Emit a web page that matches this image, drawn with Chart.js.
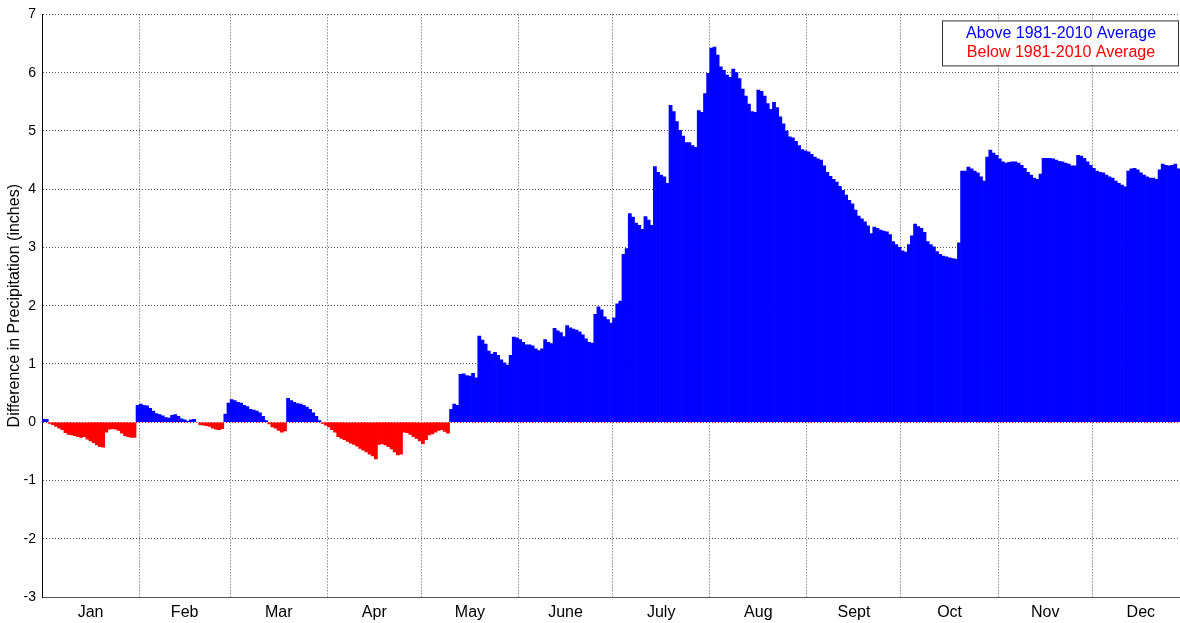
<!DOCTYPE html>
<html>
<head>
<meta charset="utf-8">
<title>Difference in Precipitation</title>
<script src="https://cdn.jsdelivr.net/npm/chart.js@4.4.0/dist/chart.umd.min.js"></script>
<style>
  html, body { margin: 0; padding: 0; background: #fff; }
  #wrap { position: relative; width: 1180px; height: 623px; }
</style>
</head>
<body>
<div id="wrap"><canvas id="precipChart"></canvas></div>
<script>
// ── Data ─────────────────────────────────────────────────────
const months = ['Jan', 'Feb', 'Mar', 'Apr', 'May', 'June', 'July', 'Aug', 'Sept', 'Oct', 'Nov', 'Dec'];
const monthStartDay = [0, 31, 60, 91, 121, 152, 182, 213, 244, 274, 305, 335, 366];   // leap year
const yTicks = [-3, -2, -1, 0, 1, 2, 3, 4, 5, 6, 7];
const seriesLabels = ['Above 1981-2010 Average', 'Below 1981-2010 Average'];

// accumulated difference from normal (inches), one value per day from Jan 1
// (the picture is cut at the right edge, the last days of Dec are not visible)
const diffValues = [
  0.05, 0.05, -0.02, -0.04, -0.07, -0.10, -0.13, -0.18, -0.21, -0.22,
  -0.23, -0.25, -0.26, -0.25, -0.29, -0.32, -0.35, -0.39, -0.42, -0.43,
  -0.17, -0.12, -0.11, -0.12, -0.14, -0.19, -0.23, -0.25, -0.26, -0.26,
  0.29, 0.31, 0.29, 0.28, 0.24, 0.19, 0.15, 0.13, 0.11, 0.08,
  0.07, 0.12, 0.13, 0.10, 0.06, 0.04, 0.02, 0.04, 0.05, 0.00,
  -0.04, -0.05, -0.06, -0.07, -0.10, -0.12, -0.13, -0.11, 0.14, 0.33,
  0.39, 0.37, 0.34, 0.33, 0.29, 0.27, 0.22, 0.21, 0.19, 0.16,
  0.10, 0.03, -0.03, -0.08, -0.10, -0.14, -0.17, -0.15, 0.41, 0.37,
  0.34, 0.32, 0.31, 0.29, 0.26, 0.22, 0.16, 0.10, 0.03, -0.02,
  -0.05, -0.08, -0.13, -0.17, -0.25, -0.28, -0.30, -0.33, -0.36,
  -0.38, -0.41, -0.45, -0.48, -0.51, -0.55, -0.58, -0.63, -0.38, -0.37,
  -0.39, -0.42, -0.46, -0.51, -0.56, -0.55, -0.17, -0.18, -0.21, -0.25,
  -0.28, -0.32, -0.37, -0.30, -0.22, -0.20, -0.17, -0.14, -0.13, -0.16,
  -0.19, 0.22, 0.31, 0.29, 0.82, 0.83, 0.80, 0.79, 0.84, 0.76,
  1.48, 1.41, 1.34, 1.22, 1.17, 1.20, 1.15, 1.07, 1.02, 0.98,
  1.15, 1.46, 1.45, 1.42, 1.37, 1.33, 1.33, 1.31, 1.26, 1.23,
  1.26, 1.42, 1.37, 1.35, 1.61, 1.57, 1.54, 1.47, 1.66, 1.62,
  1.60, 1.58, 1.55, 1.50, 1.43, 1.37, 1.36, 1.85, 1.98, 1.93,
  1.81, 1.76, 1.70, 1.79, 2.03, 2.08, 2.88, 2.98, 3.58, 3.52,
  3.42, 3.38, 3.31, 3.53, 3.47, 3.38, 4.39, 4.29, 4.24, 4.21,
  4.10, 5.44, 5.33, 5.16, 5.01, 4.91, 4.80, 4.80, 4.75, 4.72,
  5.35, 5.32, 5.64, 5.99, 6.42, 6.44, 6.30, 6.10, 6.04, 5.96,
  5.92, 6.06, 6.00, 5.90, 5.72, 5.60, 5.46, 5.33, 5.32, 5.70,
  5.68, 5.60, 5.47, 5.37, 5.49, 5.40, 5.24, 5.12, 5.00, 4.90,
  4.88, 4.82, 4.75, 4.68, 4.66, 4.64, 4.60, 4.55, 4.52, 4.50,
  4.40, 4.29, 4.22, 4.17, 4.12, 4.05, 3.98, 3.90, 3.81, 3.75,
  3.64, 3.54, 3.49, 3.44, 3.37, 3.24, 3.35, 3.33, 3.30, 3.28,
  3.27, 3.22, 3.10, 3.05, 3.00, 2.94, 2.92, 3.05, 3.20, 3.40,
  3.36, 3.33, 3.26, 3.10, 3.05, 3.01, 2.93, 2.88, 2.85,
  2.84, 2.82, 2.81, 2.80, 3.08, 4.31, 4.31, 4.38, 4.35, 4.31,
  4.28, 4.21, 4.14, 4.55, 4.67, 4.62, 4.58, 4.52, 4.47, 4.45,
  4.46, 4.47, 4.47, 4.45, 4.41, 4.36, 4.29, 4.24, 4.19, 4.17,
  4.26, 4.53, 4.53, 4.53, 4.52, 4.50, 4.48, 4.47, 4.45, 4.43,
  4.40, 4.40, 4.58, 4.57, 4.53, 4.47, 4.41, 4.36, 4.31, 4.29,
  4.28, 4.24, 4.21, 4.19, 4.14, 4.10, 4.07, 4.04, 4.31, 4.35,
  4.36, 4.33, 4.28, 4.24, 4.21, 4.19, 4.19, 4.17, 4.33, 4.43,
  4.41, 4.40, 4.41, 4.43, 4.35
];

// ── Derived ──────────────────────────────────────────────────
const nShown    = diffValues.length;          // days visible inside the frame
const aboveData = diffValues.map((v, i) => ({ x: i + 0.5, y: v > 0 ? v : null }));
const belowData = diffValues.map((v, i) => ({ x: i + 0.5, y: v < 0 ? v : null }));

// month boundaries (grid lines) + month centres (labels)
const xTicks = [];
for (let m = 0; m < 12; m++) {
  xTicks.push({ value: monthStartDay[m], label: '' });
  xTicks.push({ value: (monthStartDay[m] + monthStartDay[m + 1]) / 2, label: months[m] });
}

const FONT = '"Liberation Sans", Arial, sans-serif';

// ── Legend box drawn in the top-right corner ─────────────────
const legendBox = {
  id: 'legendBox',
  afterDraw(chart) {
    const { ctx, chartArea } = chart;
    const w = 236, h = 45;
    const x = chartArea.right - w - 2, y = chartArea.top + 6;
    ctx.save();
    ctx.fillStyle = '#fff';
    ctx.fillRect(x, y, w, h);
    ctx.strokeStyle = '#333';
    ctx.lineWidth = 1;
    ctx.strokeRect(x + 0.5, y + 0.5, w, h);
    ctx.font = '16px ' + FONT;
    ctx.textAlign = 'center';
    ctx.textBaseline = 'middle';
    chart.data.datasets.forEach((ds, i) => {
      ctx.fillStyle = ds.backgroundColor;
      ctx.fillText(ds.label, x + w / 2 + 1, y + 13.5 + i * 18.5);
    });
    ctx.restore();
  }
};

new Chart(document.getElementById('precipChart'), {
  type: 'bar',
  data: {
    datasets: [
      { label: seriesLabels[0], data: aboveData, backgroundColor: '#0000ff', borderWidth: 0, grouped: false,
        barPercentage: 1, categoryPercentage: 1 },
      { label: seriesLabels[1], data: belowData, backgroundColor: '#ff0000', borderWidth: 0, grouped: false,
        barPercentage: 1, categoryPercentage: 1 }
    ]
  },
  options: {
    responsive: true,
    maintainAspectRatio: false,
    animation: false,
    layout: { padding: { top: 14, right: 0, left: 0, bottom: 0 } },
    plugins: {
      legend: { display: false },
      tooltip: { enabled: false }
    },
    scales: {
      x: {
        type: 'linear',
        min: 0,
        max: nShown,
        offset: false,
        z: 1,
        afterBuildTicks: axis => { axis.ticks = xTicks.map(t => ({ value: t.value })); },
        afterFit: axis => {
          axis.height = 26;
          axis.paddingLeft = 0;
          axis.paddingRight = 0;
        },
        ticks: {
          autoSkip: false,
          maxRotation: 0,
          padding: 6,
          color: '#000',
          font: { family: FONT, size: 16 },
          callback: (v, i) => xTicks[i].label
        },
        grid: {
          offset: false,
          drawTicks: false,
          lineWidth: 1,
          color: ctx => (ctx.index % 2 === 0 ? '#555' : 'rgba(0,0,0,0)')
        },
        border: { display: true, color: '#555', dash: [1, 2] }
      },
      y: {
        min: -3,
        max: 7,
        z: 1,
        afterBuildTicks: axis => { axis.ticks = yTicks.map(v => ({ value: v })); },
        afterFit: axis => { axis.width = 42; },
        ticks: {
          padding: 6,
          color: '#000',
          font: { family: FONT, size: 14 }
        },
        grid: {
          drawTicks: false,
          lineWidth: 1,
          color: ctx => (ctx.tick && ctx.tick.value === 0 ? '#ff0000' : '#555')
        },
        border: { display: true, color: '#000', width: 1, dash: [1, 2] },
        title: {
          display: true,
          text: 'Difference in Precipitation (inches)',
          color: '#000',
          font: { family: FONT, size: 16 },
          padding: { top: 5, bottom: 0 }
        }
      }
    }
  },
  plugins: [legendBox]
});
</script>
</body>
</html>
